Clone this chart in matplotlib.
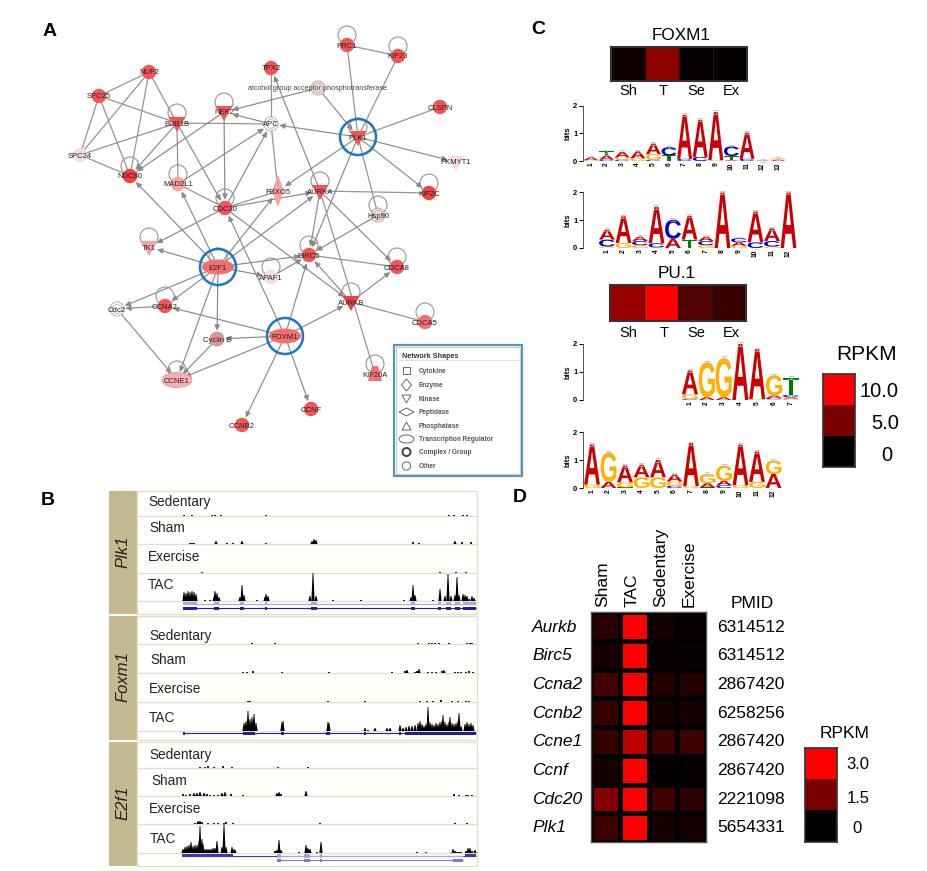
import matplotlib
matplotlib.use('Agg')
import numpy as np
import matplotlib.pyplot as plt
from matplotlib.colors import LinearSegmentedColormap, ListedColormap
from matplotlib.font_manager import FontProperties
from matplotlib.patches import Circle, Ellipse, PathPatch, Polygon, Rectangle
from matplotlib.textpath import TextPath
from matplotlib.transforms import Affine2D

plt.rcParams['font.family'] = ['Liberation Sans', 'DejaVu Sans']

W, H = 928, 871

# ---- panel A: network, picture coordinates
STRONG, MID, PALE, NONE = '#f25555', '#f7a3a3', '#fbdcdc', '#ffffff'
NODES = {
    'NUF2': (149, 72, 'o', STRONG), 'SPC25': (99, 96, 'o', STRONG),
    'SPC24': (80, 155, 'o', PALE), 'BUB1B': (177, 123, 'v', STRONG),
    'NEK2': (224, 112, 'v', STRONG), 'TPX2': (271, 68, 'o', STRONG),
    'alcohol group acceptor phosphotransferase': (318, 88, 'c', PALE),
    'APC': (271, 124, 'c', NONE), 'PLK1': (358, 137, 'v', STRONG),
    'PRC1': (347, 45, 'o', STRONG), 'KIF23': (398, 56, 'o', STRONG),
    'CLSPN': (440, 107, 'o', STRONG), 'PKMYT1': (456, 162, 'v', PALE),
    'KIF2C': (429, 193, 'o', '#f04040'), 'Hsp90': (378, 215, 'c', PALE),
    'AURKA': (320, 191, 'v', STRONG), 'FBXO5': (278, 191, 'd', MID),
    'CDC20': (225, 208, 'o', STRONG), 'MAD2L1': (178, 184, 'o', MID),
    'NDC80': (130, 176, 'o', '#f04040'), 'TK1': (149, 247, 'v', MID),
    'E2F1': (218, 267, 'e', '#f47070'), 'APAF1': (271, 277, 'o', PALE),
    'BIRC5': (309, 255, 'o', STRONG), 'CDCA8': (397, 267, 'o', STRONG),
    'AURKB': (351, 302, 'v', '#f04040'), 'CDCA5': (425, 322, 'o', '#f47070'),
    'FOXM1': (285, 336, 'e', '#f47070'), 'Cyclin E': (217, 339, 'c', '#f29090'),
    'CCNA2': (165, 306, 'o', STRONG), 'Cdc2': (117, 309, 'c', NONE),
    'CCNE1': (177, 380, 'E', '#f9b0b0'), 'CCNB2': (242, 425, 'o', STRONG),
    'CCNF': (311, 409, 'o', STRONG), 'KIF20A': (375, 374, 'u', '#f47070'),
}
LOOPS = ['PRC1', 'KIF23', 'NDC80', 'BUB1B', 'NEK2', 'MAD2L1', 'TK1', 'CDC20', 'AURKA',
         'KIF2C', 'Hsp90', 'PLK1', 'E2F1', 'APAF1', 'BIRC5', 'CDCA8', 'AURKB', 'CDCA5',
         'CCNA2', 'CCNE1', 'KIF20A']
RINGED = ['PLK1', 'E2F1', 'FOXM1']
ALC = 'alcohol group acceptor phosphotransferase'
PLAIN_EDGES = [('NUF2', 'SPC25'), ('NUF2', 'SPC24'), ('NUF2', 'NDC80'), ('NUF2', 'BUB1B'),
               ('SPC25', 'SPC24'), ('SPC25', 'NDC80'), ('SPC25', 'BUB1B'), ('SPC24', 'BUB1B'),
               ('SPC24', 'NDC80'), ('APC', 'BUB1B'), ('PRC1', 'PLK1'), ('KIF23', 'PLK1'),
               ('PRC1', 'KIF23'), ('PLK1', 'CLSPN'), ('PLK1', 'Hsp90'), ('APC', 'TPX2'),
               ('APC', 'FBXO5'), ('BUB1B', 'MAD2L1'), ('MAD2L1', 'CDC20'), ('CDC20', 'FBXO5'),
               ('AURKA', 'KIF2C'), ('BIRC5', 'CDCA8'), ('AURKB', 'CDCA5'), ('AURKA', 'KIF20A')]
ARROW_EDGES = [('BUB1B', 'NDC80'), ('NEK2', 'NDC80'), (ALC, 'NEK2'), ('APC', 'NEK2'),
               ('PLK1', 'APC'), (ALC, 'PLK1'), ('PLK1', 'PKMYT1'), ('PLK1', 'KIF2C'),
               ('PLK1', 'FBXO5'), ('PLK1', 'BIRC5'), ('AURKA', 'TPX2'), ('NEK2', 'CDC20'),
               ('CDC20', 'APC'), ('MAD2L1', 'APC'), ('BUB1B', 'CDC20'), ('E2F1', 'MAD2L1'),
               ('CDC20', 'AURKA'), ('E2F1', 'FBXO5'), ('FOXM1', 'CDC20'), ('E2F1', 'NDC80'),
               ('E2F1', 'AURKA'), ('E2F1', 'TK1'), ('CDC20', 'TK1'), ('E2F1', 'BIRC5'),
               ('E2F1', 'APAF1'), ('APAF1', 'BIRC5'), ('Hsp90', 'BIRC5'), ('AURKA', 'BIRC5'),
               ('AURKB', 'BIRC5'), ('AURKB', 'CDCA8'), ('CDC20', 'AURKB'), ('AURKA', 'CDCA8'),
               ('FOXM1', 'AURKB'), ('FOXM1', 'BIRC5'), ('FOXM1', 'CCNA2'), ('FOXM1', 'Cyclin E'),
               ('FOXM1', 'CCNE1'), ('FOXM1', 'CCNB2'), ('FOXM1', 'CCNF'), ('E2F1', 'CCNA2'),
               ('E2F1', 'Cdc2'), ('E2F1', 'Cyclin E'), ('E2F1', 'CCNE1'), ('CCNA2', 'Cdc2'),
               ('Cdc2', 'CCNE1'), ('Cyclin E', 'CCNE1')]
LEGEND_NAMES = ['Cytokine', 'Enzyme', 'Kinase', 'Peptidase', 'Phosphatase',
                'Transcription Regulator', 'Complex / Group', 'Other']

# ---- panel B: read coverage, (position, height)
PLK1_SED = [(184, 1), (192, 1), (212, 1), (215, 1), (221, 1), (266, 1), (449, 1), (454, 1), (463, 1), (467, 1)]
PLK1_SHAM = [(190, 1), (192, 1), (194, 1), (216, 3), (227, 1), (233, 1), (242, 3), (266, 1), (312, 3), (314, 5),
             (316, 4), (413, 2), (419, 1), (455, 3), (462, 2), (471, 2)]
PLK1_EX = [(202, 1), (440, 1), (456, 1), (466, 1)]
PLK1_TAC = [(184, 9), (186, 8), (188, 10), (190, 9), (192, 10), (194, 9), (196, 7), (205, 1), (210, 1), (214, 4),
            (215, 10), (217, 8), (219, 4), (240, 4), (242, 16), (244, 6), (257, 1), (265, 4), (266, 7), (268, 5),
            (310, 5), (313, 28), (316, 5), (333, 1), (361, 1), (404, 1), (411, 4), (413, 16),
            (415, 6), (433, 1), (440, 12), (445, 5), (448, 27), (451, 5), (455, 6), (457, 24), (459, 6),
            (463, 7), (465, 6), (467, 5), (469, 2), (472, 5), (474, 3)]
FOXM1_SED = [(252, 1), (275, 1), (418, 1), (429, 1), (432, 1), (435, 1), (439, 1), (449, 1), (467, 1), (470, 1), (472, 1)]
FOXM1_SHAM = [(243, 1), (247, 1), (253, 2), (282, 1), (329, 1), (392, 1), (405, 2), (407, 3), (415, 1), (417, 2), (419, 4),
              (428, 1), (432, 1), (436, 1), (442, 2), (444, 3), (455, 1), (458, 1), (461, 1), (466, 1), (469, 2), (473, 1)]
FOXM1_EX = [(248, 1), (250, 1), (328, 1), (365, 1), (420, 1), (427, 1), (433, 1), (441, 2), (452, 1), (458, 1), (466, 1), (469, 1)]
FOXM1_TAC = [(244, 8), (246, 10), (248, 20), (250, 12), (252, 14), (254, 17), (256, 8), (282, 9), (283, 10), (328, 9), (329, 8),
             (365, 3), (368, 1), (375, 3), (387, 3), (390, 3), (400, 6), (403, 3), (406, 4), (409, 5), (412, 5), (415, 6),
             (418, 8), (420, 10), (422, 7), (424, 5), (426, 7), (428, 24), (430, 9), (432, 7), (434, 6), (436, 8), (438, 7),
             (440, 9), (442, 10), (443, 16), (445, 9), (447, 7), (449, 9), (450, 14), (452, 8), (454, 7), (456, 8), (458, 10),
             (459, 18), (461, 5), (465, 7), (467, 9), (469, 7), (471, 8), (473, 6)]
E2F1_SED = [(200, 1), (205, 1), (208, 2), (214, 1), (223, 2), (232, 1), (278, 1), (308, 1)]
E2F1_SHAM = [(183, 2), (186, 1), (190, 2), (194, 3), (197, 3), (200, 4), (204, 3), (207, 2), (210, 1), (214, 1), (218, 1),
             (222, 3), (225, 4), (231, 2), (243, 1), (277, 3), (279, 4), (281, 2), (306, 5), (454, 2), (459, 1), (466, 1), (468, 1), (472, 1)]
E2F1_EX = [(195, 1), (198, 3), (200, 3), (202, 2), (208, 1), (214, 1), (218, 1), (224, 1), (226, 2), (233, 1), (320, 1), (455, 1), (467, 1)]
E2F1_TAC = [(183, 4), (185, 6), (187, 7), (189, 8), (191, 11), (193, 7), (195, 8), (197, 8), (199, 12), (200, 27), (202, 14), (203, 9),
            (205, 4), (207, 4), (209, 4), (211, 4), (213, 5), (215, 5), (217, 12), (222, 6), (224, 29), (226, 6), (232, 6), (234, 4), (235, 3),
            (275, 2), (277, 3), (279, 13), (281, 3), (299, 1), (306, 8), (308, 5), (310, 4), (317, 1), (321, 11),
            (417, 1), (426, 1), (453, 4), (455, 2), (457, 1), (459, 1), (461, 1), (466, 2), (468, 5), (470, 5), (472, 2), (475, 3)]

# ---- panel C: heat strips and motif stacks
STRIP_LABELS = ['Sh', 'T', 'Se', 'Ex']
FOXM1_RPKM = [0.7, 5.5, 0.3, 0.2]
PU1_RPKM = [6.0, 10.0, 3.2, 2.3]
RPKM_TICKS_C = [10.0, 5.0, 0]
LOGO_1 = [[('G', .03), ('A', .1)], [('C', .05), ('A', .15), ('T', .15)], [('C', .05), ('G', .08), ('A', .2)],
          [('G', .1), ('A', .25)], [('C', .05), ('G', .2), ('A', .38)], [('T', .2), ('C', .3)],
          [('C', .08), ('A', 1.6)], [('C', .15), ('A', 1.35)], [('G', .03), ('A', 1.75)], [('A', .03), ('T', .15), ('C', .35)],
          [('C', .08), ('A', .95)], [('A', .02)], [('A', .05), ('G', .05)]]
LOGO_2 = [[('G', .05), ('C', .25), ('A', .35)], [('G', .18), ('A', .95)], [('G', .1), ('C', .15), ('A', .15)],
          [('G', .02), ('C', .15), ('A', 1.3)], [('A', .33), ('C', .68)], [('T', .3), ('A', .85)],
          [('G', .1), ('C', .15), ('A', .15)], [('A', 1.98)], [('G', .08), ('A', .12), ('C', .15)],
          [('C', .2), ('A', 1.1)], [('G', .05), ('C', .2), ('A', .45)], [('A', 1.98)]]
LOGO_3 = [[('C', .03), ('G', .17), ('A', .85)], [('A', .1), ('G', 1.25)], [('A', .1), ('G', 1.4)], [('A', 2.0)],
          [('G', .03), ('A', 1.78)], [('G', .03), ('C', .05), ('A', .08), ('G', .72)],
          [('G', .05), ('A', .05), ('C', .08), ('T', .62)]]
LOGO_4 = [[('G', .12), ('A', 1.43)], [('A', .22), ('G', 1.05)], [('T', .02), ('G', .18), ('A', .6)], [('G', .38), ('A', .45)],
          [('G', .38), ('A', .62)], [('C', .08), ('G', .15), ('A', .25)], [('G', .07), ('A', 1.53)],
          [('T', .02), ('A', .15), ('G', .33)], [('C', .1), ('A', .15), ('G', .55)], [('G', .1), ('A', 1.45)],
          [('G', .22), ('A', 1.08)], [('A', .5), ('G', .48)]]
LETTER_COLORS = {'A': '#cc0000', 'C': '#0000cc', 'G': '#ffb000', 'T': '#008000'}

# ---- panel D
GENES = ['Aurkb', 'Birc5', 'Ccna2', 'Ccnb2', 'Ccne1', 'Ccnf', 'Cdc20', 'Plk1']
CONDITIONS = ['Sham', 'TAC', 'Sedentary', 'Exercise']
PMIDS = ['6314512', '6314512', '2867420', '6258256', '2867420', '2867420', '2221098', '5654331']
RPKM_D = [[0.47, 3.0, 0.24, 0.09],
          [0.29, 3.0, 0.09, 0.12],
          [0.82, 3.0, 0.41, 0.41],
          [0.65, 3.0, 0.26, 0.24],
          [0.65, 2.18, 0.71, 0.71],
          [0.26, 3.0, 0.07, 0.09],
          [1.53, 3.0, 0.76, 0.53],
          [0.71, 3.0, 0.29, 0.26]]
RPKM_TICKS_D = [3.0, 1.5, 0]

black_red = LinearSegmentedColormap.from_list('black_red', ['#000000', '#ff0000'])
steps = ListedColormap(['#000000', '#780000', '#ff0000'])


def px_axes(x0, y0, x1, y1):
    """Axes placed by picture pixels, y measured from the top."""
    return fig.add_axes([x0 / W, 1 - y1 / H, (x1 - x0) / W, (y1 - y0) / H])


def draw_node(name):
    x, y, kind, col = NODES[name]
    kw = dict(facecolor=col, edgecolor='none', zorder=4)
    if kind == 'o':
        ax.add_patch(Circle((x, y), 7.2, **kw))
    elif kind == 'c':
        ax.add_patch(Circle((x, y), 7, facecolor=col, edgecolor='#999999', lw=.5, zorder=4))
        ax.add_patch(Circle((x, y), 4.5, facecolor='none', edgecolor='#aaaaaa', lw=.5, zorder=4))
    elif kind == 'v':
        ax.add_patch(Polygon([(x - 8.5, y - 6), (x + 8.5, y - 6), (x, y + 9)], **kw))
    elif kind == 'd':
        ax.add_patch(Polygon([(x, y - 16), (x + 6, y), (x, y + 16), (x - 6, y)], **kw))
    elif kind == 'e':
        ax.add_patch(Ellipse((x, y), 32, 15, **kw))
    elif kind == 'E':
        ax.add_patch(Ellipse((x, y), 30, 15, facecolor=col, edgecolor='#ee8888', lw=.5, zorder=4))
    elif kind == 'u':
        ax.add_patch(Polygon([(x - 7, y + 7), (x + 7, y + 7), (x + 3, y - 8), (x - 3, y - 8)], **kw))
    if name == ALC:
        ax.text(x, y, name, fontsize=5.2, color='#444444', ha='center', va='center', zorder=5)
    else:
        ax.text(x, y + 1, name, fontsize=5.5, color='#222222', ha='center', va='center', zorder=5)


def draw_track(base, peaks):
    # tall reads taper to a spike, low ones stay as small ticks
    for x, h in peaks:
        if h >= 3:
            ax.fill([x - 1.6, x - .4, x + .4, x + 1.6], [base, base - h, base - h, base], color='black', lw=0, zorder=3)
        else:
            ax.bar(x, -h, width=1.3, bottom=base, color='#222222', lw=0, zorder=3)


def gene_line(y, x0, x1, exons, col='#7070c0', thick=4):
    ax.plot([x0, x1], [y, y], color=col, lw=.8, solid_capstyle='butt', zorder=3)
    for a, b in exons:
        ax.add_patch(Rectangle((a, y - thick / 2), b - a, thick, facecolor=col, lw=0, zorder=3))


def heat_strip(box, values, vmax):
    a = px_axes(*box)
    a.pcolormesh([values], cmap=black_red, vmin=0, vmax=vmax, edgecolors='#181818', linewidth=.6)
    a.invert_yaxis()
    a.set_xticks([])
    a.set_yticks([])
    for s in a.spines.values():
        s.set_color('#333333')
        s.set_linewidth(1.5)


def draw_logo(stacks, pos1, step, y0, y2):
    n = len(stacks)
    a = px_axes(583, y2, pos1 + (n - .5) * step, y0)
    a.set_xlim((583 - pos1) / step + 1, n + .5)
    a.set_ylim(0, 2)
    a.patch.set_alpha(0)
    for i, stack in enumerate(stacks):
        bottom = 0
        for letter, h in stack:
            tp = TextPath((0, 0), letter, size=1, prop=logo_font)
            bb = tp.get_extents()
            tr = (Affine2D().translate(-bb.x0, -bb.y0).scale(.96 / bb.width, h / bb.height)
                  .translate(i + 1 - .48, bottom))
            a.add_patch(PathPatch(tr.transform_path(tp), facecolor=LETTER_COLORS[letter], lw=0, clip_on=False))
            bottom += h
        a.errorbar(i + 1, bottom, yerr=.06, color='#bbbbbb', lw=.5, capsize=2.5, capthick=.5, clip_on=False)
    a.set_xticks(range(1, n + 1))
    a.set_xticklabels(range(1, n + 1), rotation=90, fontsize=4.8, fontweight='bold')
    a.set_yticks([0, 1, 2])
    a.set_yticklabels([0, 1, 2], fontsize=5.5, fontweight='bold')
    a.set_ylabel('bits', fontsize=5.5, fontweight='bold', labelpad=1)
    a.tick_params(axis='x', length=0, pad=1)
    a.tick_params(axis='y', length=3, width=.7, pad=1)
    for s in ['top', 'right', 'bottom']:
        a.spines[s].set_visible(False)
    a.spines['left'].set_linewidth(.7)
    a.spines['left'].set_color('#555555')


def step_bar(box, ticks, vmax):
    a = px_axes(*box)
    a.imshow([[v] for v in ticks], cmap=steps, vmin=0, vmax=vmax, aspect='auto')
    a.set_xticks([])
    a.set_yticks([])
    for s in a.spines.values():
        s.set_color('#333333')
        s.set_linewidth(1.2)


fig = plt.figure(figsize=(W / 100, H / 100), dpi=100)
ax = fig.add_axes([0, 0, 1, 1])
ax.set_xlim(0, W)
ax.set_ylim(H, 0)
ax.axis('off')

# panel letters
for letter, lx, ly in [('A', 50, 31), ('B', 48, 500), ('C', 538, 30), ('D', 520, 497)]:
    ax.text(lx, ly, letter, fontsize=14, fontweight='bold', ha='center', va='center')

# network edges first, nodes on top
for a, b in PLAIN_EDGES:
    ax.plot([NODES[a][0], NODES[b][0]], [NODES[a][1], NODES[b][1]], color='#949494', lw=.9, zorder=1)
for a, b in ARROW_EDGES:
    ax.annotate('', xy=NODES[b][:2], xytext=NODES[a][:2], zorder=1,
                arrowprops=dict(arrowstyle='-|>,head_length=.32,head_width=.15', color='#8a8a8a', lw=.85,
                                shrinkA=0, shrinkB=6))
for name in LOOPS:
    x, y = NODES[name][:2]
    ax.add_patch(Circle((x, y - 10), 9, facecolor='none', edgecolor='#949494', lw=.8, zorder=2))
for name in NODES:
    draw_node(name)
for name in RINGED:
    ax.add_patch(Circle(NODES[name][:2], 18, facecolor='none', edgecolor='#1878c4', lw=1.8, zorder=6))

# network legend
ax.add_patch(Rectangle((394, 345), 128, 131, facecolor='white', edgecolor='#5c93b4', lw=1.6, zorder=2))
ax.add_patch(Rectangle((396, 347), 124, 127, facecolor='none', edgecolor='#b5d0e0', lw=.8, zorder=2))
ax.plot([398, 518], [360, 360], color='#e2e2e2', lw=.7, zorder=3)
ax.text(402, 356, 'Network Shapes', fontsize=5.2, fontweight='bold', color='#333333', va='center', zorder=3)
sym_y = [371, 385, 399, 412, 426, 439, 452, 466]
for nm, yy in zip(LEGEND_NAMES, sym_y):
    ax.text(419, yy, nm, fontsize=4.7, fontweight='bold', color='#555555', va='center', zorder=3)
sym = dict(facecolor='white', edgecolor='#666666', lw=.7, zorder=3)
sx = 406.5
ax.add_patch(Rectangle((sx - 3.5, sym_y[0] - 3.5), 7, 7, **sym))
ax.add_patch(Polygon([(sx, sym_y[1] - 6), (sx + 5, sym_y[1]), (sx, sym_y[1] + 6), (sx - 5, sym_y[1])], **sym))
ax.add_patch(Polygon([(sx - 4.5, sym_y[2] - 4), (sx + 4.5, sym_y[2] - 4), (sx, sym_y[2] + 4)], **sym))
ax.add_patch(Polygon([(sx - 7.5, sym_y[3]), (sx, sym_y[3] - 4), (sx + 7.5, sym_y[3]), (sx, sym_y[3] + 4)], **sym))
ax.add_patch(Polygon([(sx - 4.5, sym_y[4] + 4), (sx + 4.5, sym_y[4] + 4), (sx, sym_y[4] - 4)], **sym))
ax.add_patch(Ellipse((sx, sym_y[5]), 15, 8, **sym))
ax.add_patch(Circle((sx, sym_y[6]), 4, facecolor='white', edgecolor='#444444', lw=1.4, zorder=3))
ax.add_patch(Circle((sx, sym_y[7]), 4.2, **sym))

# panel B: three blocks of tracks
TAN, RULE = '#c4b98f', '#e4dfca'
BLOCKS = [('Plk1', 491, 614, [516, 544, 573, 601], [PLK1_SED, PLK1_SHAM, PLK1_EX, PLK1_TAC],
           [148, 149, 148, 148], [502, 528, 557, 585]),
          ('Foxm1', 616, 740, [644, 673, 702, 731], [FOXM1_SED, FOXM1_SHAM, FOXM1_EX, FOXM1_TAC],
           [149, 150, 149, 149], [636, 660, 689, 718]),
          ('E2f1', 742, 866, [768, 796, 824, 853], [E2F1_SED, E2F1_SHAM, E2F1_EX, E2F1_TAC],
           [149, 151, 149, 150], [755, 781, 809, 839])]
TRACK_NAMES = ['Sedentary', 'Sham', 'Exercise', 'TAC']
for gene, top, bot, bases, tracks, label_x, label_y in BLOCKS:
    ax.add_patch(Rectangle((109, top), 28, bot - top, facecolor=TAN, lw=0))
    ax.add_patch(Rectangle((137, top), 340, bot - top, facecolor='white', edgecolor=RULE, lw=1))
    ax.text(123, (top + bot) / 2 - 1, gene, rotation=90, style='italic', fontsize=12, ha='center', va='center', color='#222222')
    for nm, lx, ly, base, tr in zip(TRACK_NAMES, label_x, label_y, bases, tracks):
        ax.plot([137, 477], [base, base], color=RULE, lw=1, zorder=2)
        draw_track(base, tr)
        ax.text(lx, ly, nm, fontsize=9.8, va='center', color='#222222')

# gene models under the TAC tracks
PLK1_EXONS = [(183, 197), (214, 219), (240, 244), (265, 267), (311, 317), (411, 415), (438, 441), (446, 451), (455, 460), (463, 476)]
gene_line(603.5, 183, 476, PLK1_EXONS, col='#a8a8e0', thick=3)
gene_line(608, 183, 476, PLK1_EXONS, col='#20209a', thick=3)
gene_line(733, 183, 476, [(183, 185), (243, 255), (281, 284), (326, 330), (364, 366), (399, 401), (405, 476)], col='#20209a', thick=3)
gene_line(855.5, 182, 476, [(182, 233), (465, 476)], col='#3a3aa8', thick=3)
gene_line(860, 277, 463, [(277, 281), (304, 310), (320, 322), (453, 463)], col='#7a7ad0', thick=3)
gene_line(855.5, 277, 463, [(277, 281), (304, 310), (320, 322)], col='#a8a8e0', thick=4)

# panel C
ax.text(681, 36, 'FOXM1', fontsize=12.3, ha='center', va='center')
ax.text(677, 273, 'PU.1', fontsize=12.3, ha='center', va='center')
heat_strip((611, 47, 747, 81), FOXM1_RPKM, 10)
heat_strip((610, 285, 746, 321), PU1_RPKM, 10)
for lab, xa, xb in zip(STRIP_LABELS, [628, 663, 696, 731], [628, 664, 696, 731]):
    ax.text(xa, 91, lab, fontsize=10.5, ha='center', va='center')
    ax.text(xb, 333, lab, fontsize=10.5, ha='center', va='center')

logo_font = FontProperties(family='Liberation Sans', weight='bold')
draw_logo(LOGO_1, 591, 15.6, 161, 106)
draw_logo(LOGO_2, 607, 16.5, 248, 192)
draw_logo(LOGO_3, 690, 16.8, 400, 344)
draw_logo(LOGO_4, 592, 16.5, 488, 432)

ax.text(867, 354, 'RPKM', fontsize=15, ha='center', va='center')
step_bar((823, 374, 855, 467), RPKM_TICKS_C, 10)
for t, ty, tx in zip(RPKM_TICKS_C, [391, 423, 455], [899, 899, 892]):
    ax.text(tx, ty, str(t), fontsize=14.5, ha='right', va='center')

# panel D
axd = px_axes(591, 612, 706, 842)
axd.pcolormesh(RPKM_D, cmap=black_red, vmin=0, vmax=3, edgecolors='black', linewidth=2.5)
axd.invert_yaxis()
axd.set_xticks([])
axd.set_yticks([])
for s in axd.spines.values():
    s.set_color('#555555')
    s.set_linewidth(1)
for i, (g, p) in enumerate(zip(GENES, PMIDS)):
    yy = 627 + i * 28.7
    ax.text(532, yy, g, style='italic', fontsize=12.5, va='center')
    ax.text(717, yy, p, fontsize=12.5, va='center')
for c, cx in zip(CONDITIONS, [603, 632, 661, 689]):
    ax.text(cx, 607, c, rotation=90, fontsize=12.5, ha='center', va='bottom')
ax.text(752, 603, 'PMID', fontsize=12.5, ha='center', va='center')
ax.text(845, 733, 'RPKM', fontsize=12.5, ha='center', va='center')
step_bar((805, 748, 837, 842), RPKM_TICKS_D, 3)
for t, ty, tx in zip(RPKM_TICKS_D, [764, 798, 828], [858, 858, 857]):
    ax.text(tx, ty, str(t), fontsize=12, ha='center', va='center')

fig.savefig('out.png', dpi=100)
